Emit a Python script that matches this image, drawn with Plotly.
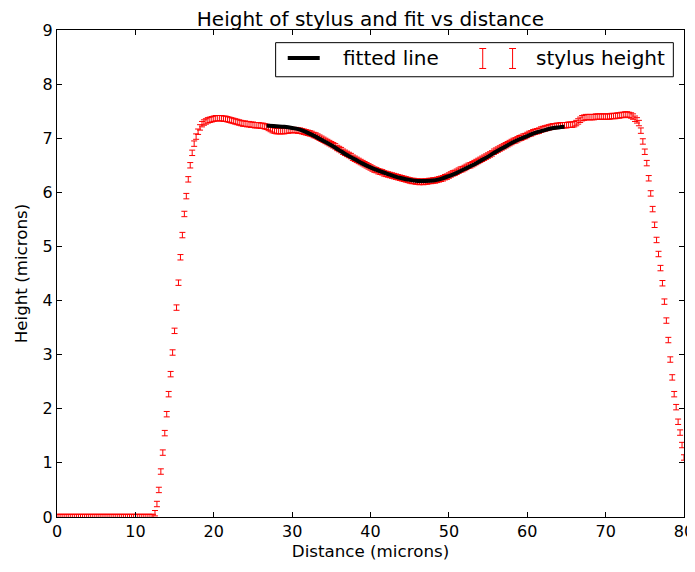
"""
Stylus profile: measured height with error bars and the fitted line.
"""

import numpy as np
import plotly.graph_objects as go

# measured heights, one every 0.25 microns from 0 to 80
step = 0.25
height_baseline = [
    0.0, 0.0, 0.0, 0.0, 0.0, 0.0, 0.0, 0.0, 0.0, 0.0,
    0.0, 0.0, 0.0, 0.0, 0.0, 0.0, 0.0, 0.0, 0.0, 0.0,
    0.0, 0.0, 0.0, 0.0, 0.0, 0.0, 0.0, 0.0, 0.0, 0.0,
    0.0, 0.0, 0.0, 0.0, 0.0, 0.0, 0.0, 0.0, 0.0, 0.0,
    0.0, 0.0, 0.0, 0.0, 0.0, 0.0, 0.0, 0.0, 0.0, 0.0,
]
height_rise = [
    0.07, 0.24, 0.50, 0.84, 1.19, 1.55, 1.90, 2.27, 2.64, 3.04,
    3.44, 3.87, 4.33, 4.80, 5.21, 5.60, 5.93, 6.24, 6.50, 6.73,
    6.90, 7.03, 7.12, 7.20,
]
height_left_top = [
    7.26, 7.29, 7.31, 7.33, 7.34, 7.35, 7.36, 7.37, 7.37, 7.37,
    7.37, 7.36, 7.36, 7.35, 7.34, 7.33, 7.32, 7.31, 7.30, 7.29,
    7.28, 7.27, 7.27, 7.26, 7.26, 7.25, 7.25, 7.24, 7.24, 7.24,
    7.23, 7.23, 7.22, 7.21, 7.19, 7.17, 7.15, 7.14, 7.13, 7.13,
    7.13, 7.13, 7.13, 7.14, 7.14, 7.15, 7.15, 7.15, 7.15, 7.14,
]
height_middle = [
    7.14, 7.13, 7.12, 7.11, 7.10, 7.09, 7.08, 7.06, 7.05, 7.03,
    7.01, 6.99, 6.97, 6.95, 6.93, 6.91, 6.89, 6.87, 6.85, 6.82,
    6.80, 6.78, 6.75, 6.73, 6.71, 6.69, 6.67, 6.64, 6.62, 6.60,
    6.58, 6.56, 6.54, 6.52, 6.50, 6.48, 6.46, 6.44, 6.42, 6.41,
    6.39, 6.38, 6.37, 6.35, 6.34, 6.33, 6.32, 6.31, 6.30, 6.29,
    6.28, 6.27, 6.26, 6.25, 6.24, 6.23, 6.22, 6.21, 6.21, 6.20,
    6.20, 6.19, 6.20, 6.19, 6.20, 6.20, 6.21, 6.21, 6.22, 6.22,
    6.23, 6.24, 6.25, 6.26, 6.28, 6.29, 6.31, 6.33, 6.35, 6.36,
    6.38, 6.40, 6.42, 6.43, 6.45, 6.47, 6.49, 6.50, 6.52, 6.54,
    6.56, 6.58, 6.60, 6.62, 6.64, 6.66, 6.68, 6.70, 6.72, 6.75,
    6.77, 6.79, 6.81, 6.83, 6.85, 6.87, 6.89, 6.91, 6.93, 6.95,
    6.96, 6.98, 7.00, 7.01, 7.03, 7.04, 7.06, 7.08, 7.09, 7.11,
    7.12, 7.13, 7.14, 7.16, 7.17, 7.18, 7.19, 7.20, 7.21, 7.22,
    7.22, 7.23, 7.23, 7.24, 7.24, 7.24,
]
height_right_top = [
    7.24, 7.25, 7.25, 7.25, 7.26, 7.28, 7.31, 7.34, 7.37, 7.38,
    7.39, 7.39, 7.39, 7.39, 7.39, 7.40, 7.40, 7.40, 7.40, 7.40,
    7.40, 7.40, 7.40, 7.41, 7.41, 7.41, 7.42, 7.42,
    7.43, 7.43, 7.44, 7.44, 7.43, 7.42, 7.40, 7.36, 7.33,
]
height_fall = [
    7.28, 7.14, 6.94, 6.75, 6.54, 6.26, 5.98, 5.69, 5.40, 5.12,
    4.86, 4.60, 4.32, 3.98, 3.63, 3.27, 2.91, 2.58, 2.27, 2.03,
    1.76, 1.56, 1.33, 1.10,
]
height_err = 0.05

# fitted line over the central dip
fit_x = [26.75, 27, 28, 29, 30, 31, 32, 33, 34, 35, 36, 37, 38, 39, 40,
         41, 42, 43, 44, 45, 46, 47, 48, 49, 50, 51, 52, 53, 54, 55,
         56, 57, 58, 59, 60, 61, 62, 63, 64, 64.75]
fit_y = [7.23, 7.23, 7.22, 7.21, 7.19, 7.16, 7.10, 7.03, 6.95, 6.87,
         6.78, 6.69, 6.61, 6.53, 6.46, 6.40, 6.35, 6.30, 6.26, 6.23,
         6.21, 6.21, 6.22, 6.25, 6.30, 6.36, 6.43, 6.50, 6.58, 6.66,
         6.75, 6.83, 6.91, 6.98, 7.04, 7.10, 7.14, 7.18, 7.20, 7.21]

height = (height_baseline + height_rise + height_left_top + height_middle
          + height_right_top + height_fall)
distance = np.arange(len(height)) * step

FONT = "DejaVu Sans"
W, H = 686, 555   # page body keeps an 8px margin round the figure

fig = go.Figure()
fig.add_trace(go.Scatter(
    x=distance, y=height, mode="markers",
    marker=dict(size=2, color="rgba(0,0,0,0)"),
    error_y=dict(type="constant", value=height_err, color="red",
                 thickness=1, width=3),
    showlegend=False, hoverinfo="x+y",
))
fig.add_trace(go.Scatter(
    x=fit_x, y=fit_y, mode="lines", line=dict(color="black", width=4, shape="spline"),
    showlegend=False,
))

# hand-drawn legend box (matplotlib style, two error-bar glyphs)
shapes = [
    dict(type="rect", xref="paper", yref="paper", x0=0.3487, x1=0.983, y0=0.904, y1=0.974,
         line=dict(color="black", width=1), fillcolor="white", layer="above"),
    dict(type="line", xref="paper", yref="paper", x0=0.368, x1=0.419, y0=0.9425, y1=0.9425,
         line=dict(color="black", width=4), layer="above"),
]
for xc in [0.679, 0.7266]:
    shapes.append(dict(type="line", xref="paper", yref="paper", x0=xc, x1=xc, y0=0.921, y1=0.962,
                       line=dict(color="red", width=1), layer="above"))
    for yc in [0.921, 0.962]:
        shapes.append(dict(type="line", xref="paper", yref="paper", x0=xc - 0.0055, x1=xc + 0.0055,
                           y0=yc, y1=yc, line=dict(color="red", width=1), layer="above"))

annotations = [
    dict(text="fitted line", xref="paper", yref="paper", x=0.4533, y=0.9425,
         xanchor="left", yanchor="middle", showarrow=False, font=dict(size=20, color="black", family=FONT)),
    dict(text="stylus height", xref="paper", yref="paper", x=0.761, y=0.9425,
         xanchor="left", yanchor="middle", showarrow=False, font=dict(size=20, color="black", family=FONT)),
]

axis_style = dict(showgrid=False, zeroline=False, showline=True, mirror="ticks",
                  linecolor="black", linewidth=1, ticks="inside", ticklen=5,
                  tickcolor="black", automargin=False, ticklabeloverflow="allow",
                  tickfont=dict(size=16, color="black", family=FONT))

fig.update_layout(
    width=W, height=H, autosize=False,
    margin=dict(l=49, r=10, t=22, b=46),
    paper_bgcolor="white", plot_bgcolor="white",
    font=dict(family=FONT, color="black"),
    title=dict(text="Height of stylus and fit vs distance", x=0.5, xref="paper",
               y=1 - 11 / H, yref="container", yanchor="middle",
               font=dict(size=20, color="black", family=FONT)),
    xaxis=dict(range=[0, 80], tickvals=list(range(0, 81, 10)),
               title=dict(text="Distance (microns)", font=dict(size=16.7), standoff=2), **axis_style),
    yaxis=dict(range=[0, 9], tickvals=list(range(0, 10)),
               title=dict(text="Height (microns)", font=dict(size=16.7), standoff=10), **axis_style),
    shapes=shapes, annotations=annotations,
)

fig.write_html("out.html")
